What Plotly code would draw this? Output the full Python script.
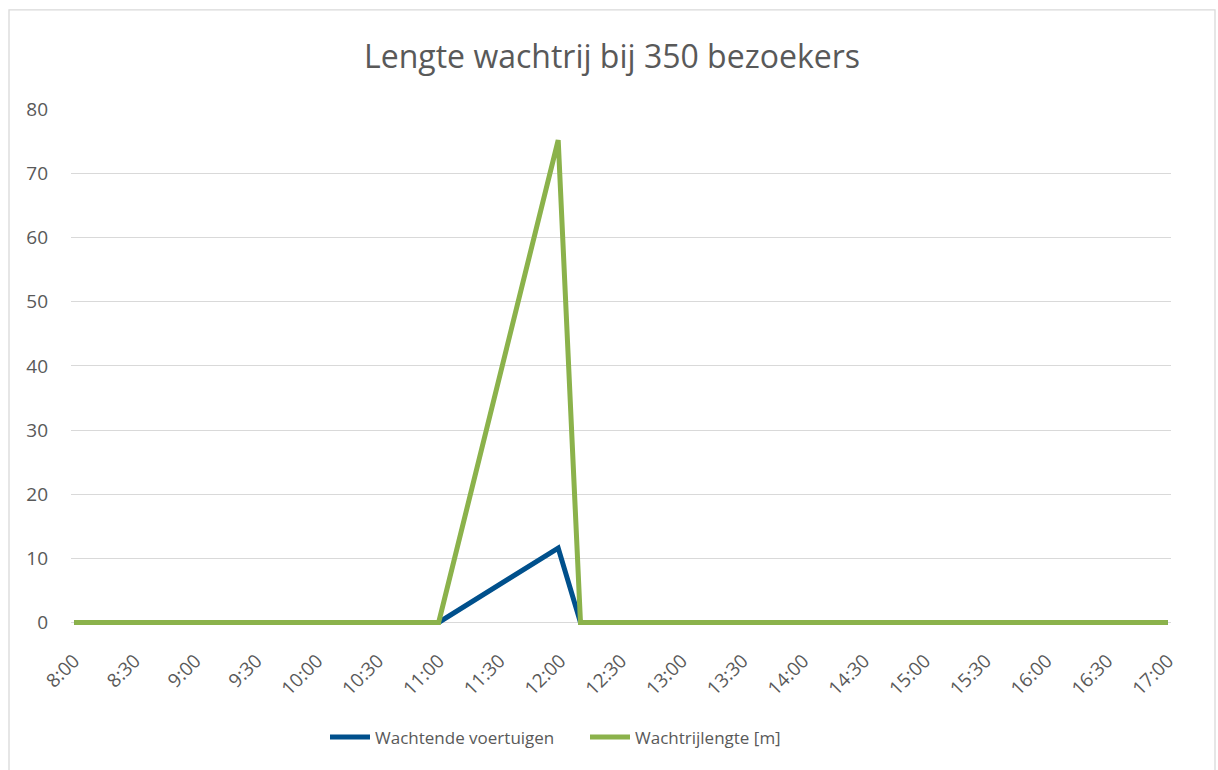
import plotly.graph_objects as go

# ---- data ----
times = ["2024-01-01 08:00", "2024-01-01 11:00", "2024-01-01 11:59",
         "2024-01-01 12:10", "2024-01-01 17:00"]
wachtende_voertuigen = [0, 0, 11.6, 0, 0]
wachtrijlengte_m = [0, 0, 75.2, 0, 0]
y_ticks = [0, 10, 20, 30, 40, 50, 60, 70, 80]

title_text = "Lengte wachtrij bij 350 bezoekers"
name_blue = "Wachtende voertuigen"
name_green = "Wachtrijlengte [m]"

BLUE = "#00508C"
GREEN = "#8BB24B"
TXT = "#595959"
GRID = "#D9D9D9"
FONT = "Open Sans"

W, H = 1218, 770
# plot-area pixel geometry
px_left, px_right = 71, 1171
px_top, px_bottom = 109, 624.6

fig = go.Figure()
fig.add_trace(go.Scatter(x=times, y=wachtende_voertuigen, name=name_blue,
                         mode="lines", line=dict(color=BLUE, width=5)))
fig.add_trace(go.Scatter(x=times, y=wachtrijlengte_m, name=name_green,
                         mode="lines", line=dict(color=GREEN, width=5)))

fig.update_layout(
    width=W, height=H, autosize=False,
    margin=dict(l=px_left, r=W - px_right, t=px_top, b=H - px_bottom),
    paper_bgcolor="white", plot_bgcolor="white",
    font=dict(family=FONT, color=TXT, size=19),
    title=dict(text=title_text, x=612 / W, xref="container", xanchor="center",
               y=1 - 57 / H, yref="container", yanchor="middle",
               font=dict(family=FONT, size=32, color=TXT)),
    showlegend=True,
    legend=dict(orientation="h", x=(325 - px_left) / (px_right - px_left),
                xanchor="left", y=(px_bottom - 737) / (px_bottom - px_top),
                yanchor="middle", font=dict(size=17, color=TXT),
                itemwidth=40, tracegroupgap=0,
                entrywidth=205, entrywidthmode="pixels"),
    xaxis=dict(type="date", range=["2024-01-01 07:58:30", "2024-01-01 17:01:30"],
               tick0="2024-01-01 08:00", dtick=30 * 60 * 1000,
               tickformat="%-H:%M", tickangle=-45, showgrid=False,
               zeroline=False, showline=False, ticks="",
               ticklabelstandoff=20, tickfont=dict(size=19, color=TXT)),
    yaxis=dict(range=[-0.4, 80.05], tickvals=y_ticks, showgrid=True,
               gridcolor=GRID, gridwidth=1.3, zeroline=False, showline=False,
               ticks="", ticklabelstandoff=22,
               tickfont=dict(size=19, color=TXT)),
    shapes=[dict(type="rect", xref="paper", yref="paper",
                 x0=(9 - px_left) / (px_right - px_left),
                 x1=(1215 - px_left) / (px_right - px_left),
                 y0=(px_bottom - 780) / (px_bottom - px_top),
                 y1=(px_bottom - 10) / (px_bottom - px_top),
                 line=dict(color=GRID, width=1.3), layer="below")],
)

fig.write_html("out.html", config={"displayModeBar": False},
               post_script="document.body.style.margin='0';")
